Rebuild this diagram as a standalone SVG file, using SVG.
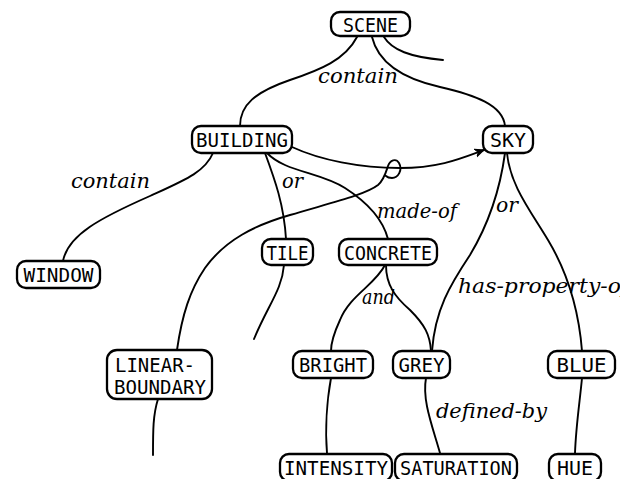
<svg xmlns="http://www.w3.org/2000/svg" width="620" height="479" viewBox="0 0 620 479">
  <style>
    .box { fill: #fff; stroke: #000; stroke-width: 2.3; }
    .lbl { font-family: "DejaVu Sans Mono", "Liberation Mono", monospace; font-size: 20px; fill: #000; text-anchor: middle; }
    .lbl2 { font-family: "DejaVu Sans Mono", "Liberation Mono", monospace; font-size: 20px; fill: #000; }
    .rel { font-family: "DejaVu Serif", "Liberation Serif", serif; font-style: italic; font-size: 20px; fill: #000; }
    .edge { fill: none; stroke: #000; stroke-width: 1.9; stroke-linecap: round; }
  </style>
  <defs>
    <marker id="arrow" viewBox="0 0 10 10" refX="9" refY="5" markerWidth="10" markerHeight="10" orient="auto" markerUnits="userSpaceOnUse">
      <path d="M0,1 L9,5 L0,9 L3,5 Z" fill="#000" stroke="#000" stroke-width="1"/>
    </marker>
  </defs>
  <rect width="620" height="479" fill="#fff"/>

  <g id="connectors">
    <!-- SCENE -> BUILDING -->
    <path class="edge" d="M357,37 C345,60 320,70 290,80 C255,92 240,105 240,126"/>
    <!-- SCENE -> SKY -->
    <path class="edge" d="M372,37 C378,62 400,78 440,87 C475,95 503,105 505,126"/>
    <!-- SCENE stub -->
    <path class="edge" d="M384,37 C392,50 410,57 443,60"/>
    <!-- BUILDING -> WINDOW -->
    <path class="edge" d="M213,153 C205,172 185,180 150,196 C100,218 68,235 63,261"/>
    <!-- BUILDING -> TILE -->
    <path class="edge" d="M265,153 C275,180 284,205 286,239"/>
    <!-- BUILDING -> CONCRETE -->
    <path class="edge" d="M267,153 C285,172 320,172 345,188 C370,204 383,220 388,239"/>
    <!-- BUILDING -> SKY arrow -->
    <path class="edge" d="M292,147 C320,160 360,168 400,168 C440,168 462,158 484,150" marker-end="url(#arrow)"/>
    <!-- LINEAR-BOUNDARY hooked onto arrow -->
    <path class="edge" d="M177,350 C182,315 190,290 205,268 C225,240 255,225 290,215 C330,203 365,195 378,185 C384,180 386,172 388,166 C390,160 396,158 399,163 C403,170 398,178 392,178 C389,178 387,177 386,176"/>
    <!-- TILE stub -->
    <path class="edge" d="M284,265 C282,290 268,305 254,339"/>
    <!-- CONCRETE -> BRIGHT -->
    <path class="edge" d="M385,265 C375,285 350,295 340,320 C334,333 331,342 331,351"/>
    <!-- CONCRETE -> GREY -->
    <path class="edge" d="M386,265 C386,285 395,297 410,310 C425,325 430,335 431,351"/>
    <!-- SKY -> GREY -->
    <path class="edge" d="M505,153 C500,190 488,225 470,255 C450,285 435,310 432,351"/>
    <!-- SKY -> BLUE -->
    <path class="edge" d="M507,153 C510,185 530,210 548,240 C563,265 578,300 582,351"/>
    <!-- LINEAR-BOUNDARY stub -->
    <path class="edge" d="M158,399 C153,415 153,430 153,455"/>
    <!-- BRIGHT -> INTENSITY -->
    <path class="edge" d="M331,378 C327,400 325,430 327,453"/>
    <!-- GREY -> SATURATION -->
    <path class="edge" d="M426,378 C422,400 432,425 440,453"/>
    <!-- BLUE -> HUE -->
    <path class="edge" d="M582,378 C580,400 576,425 575,453"/>

    <text class="rel" x="318" y="83" textLength="80" lengthAdjust="spacingAndGlyphs">contain</text>
    <text class="rel" x="71" y="188" textLength="79" lengthAdjust="spacingAndGlyphs">contain</text>
    <text class="rel" x="282" y="188" textLength="21" lengthAdjust="spacingAndGlyphs">or</text>
    <text class="rel" x="377" y="218" textLength="80" lengthAdjust="spacingAndGlyphs">made-of</text>
    <text class="rel" x="496" y="212" textLength="22" lengthAdjust="spacingAndGlyphs">or</text>
    <text class="rel" x="458" y="293" textLength="171" lengthAdjust="spacingAndGlyphs">has-property-of</text>
    <text class="rel" x="362" y="304" textLength="33" lengthAdjust="spacingAndGlyphs">and</text>
    <text class="rel" x="436" y="418" textLength="111" lengthAdjust="spacingAndGlyphs">defined-by</text>
  </g>

  <g id="scene"><rect class="box" x="331" y="12" width="79" height="24" rx="9"/><text class="lbl" x="370.5" y="31.5" textLength="55" lengthAdjust="spacingAndGlyphs">SCENE</text></g>
  <g id="building"><rect class="box" x="192" y="126" width="100" height="27" rx="9"/><text class="lbl" x="242" y="147" textLength="92" lengthAdjust="spacingAndGlyphs">BUILDING</text></g>
  <g id="sky"><rect class="box" x="483" y="126" width="50" height="27" rx="9"/><text class="lbl" x="508" y="147" textLength="36" lengthAdjust="spacingAndGlyphs">SKY</text></g>
  <g id="window"><rect class="box" x="17" y="261" width="83" height="27" rx="9"/><text class="lbl" x="58.5" y="282" textLength="70" lengthAdjust="spacingAndGlyphs">WINDOW</text></g>
  <g id="tile"><rect class="box" x="262" y="239" width="51" height="26" rx="9"/><text class="lbl" x="287.5" y="259.5" textLength="42" lengthAdjust="spacingAndGlyphs">TILE</text></g>
  <g id="concrete"><rect class="box" x="339" y="239" width="98" height="26" rx="9"/><text class="lbl" x="388" y="259.5" textLength="88" lengthAdjust="spacingAndGlyphs">CONCRETE</text></g>
  <g id="linear-boundary"><rect class="box" x="107" y="350" width="105" height="49" rx="10"/><text class="lbl2" x="115" y="372" textLength="80" lengthAdjust="spacingAndGlyphs">LINEAR-</text><text class="lbl2" x="114" y="394" textLength="92" lengthAdjust="spacingAndGlyphs">BOUNDARY</text></g>
  <g id="bright"><rect class="box" x="293" y="351" width="80" height="27" rx="9"/><text class="lbl" x="333" y="372" textLength="68" lengthAdjust="spacingAndGlyphs">BRIGHT</text></g>
  <g id="grey"><rect class="box" x="393" y="351" width="57" height="27" rx="9"/><text class="lbl" x="421.5" y="372" textLength="46" lengthAdjust="spacingAndGlyphs">GREY</text></g>
  <g id="blue"><rect class="box" x="548" y="351" width="67" height="27" rx="9"/><text class="lbl" x="581.5" y="372" textLength="50" lengthAdjust="spacingAndGlyphs">BLUE</text></g>
  <g id="intensity"><rect class="box" x="280" y="454" width="112" height="27" rx="9"/><text class="lbl" x="336" y="474.5" textLength="104" lengthAdjust="spacingAndGlyphs">INTENSITY</text></g>
  <g id="saturation"><rect class="box" x="395" y="454" width="122" height="27" rx="9"/><text class="lbl" x="456" y="474.5" textLength="112" lengthAdjust="spacingAndGlyphs">SATURATION</text></g>
  <g id="hue"><rect class="box" x="549" y="454" width="52" height="27" rx="9"/><text class="lbl" x="575" y="474.5" textLength="36" lengthAdjust="spacingAndGlyphs">HUE</text></g>
</svg>
